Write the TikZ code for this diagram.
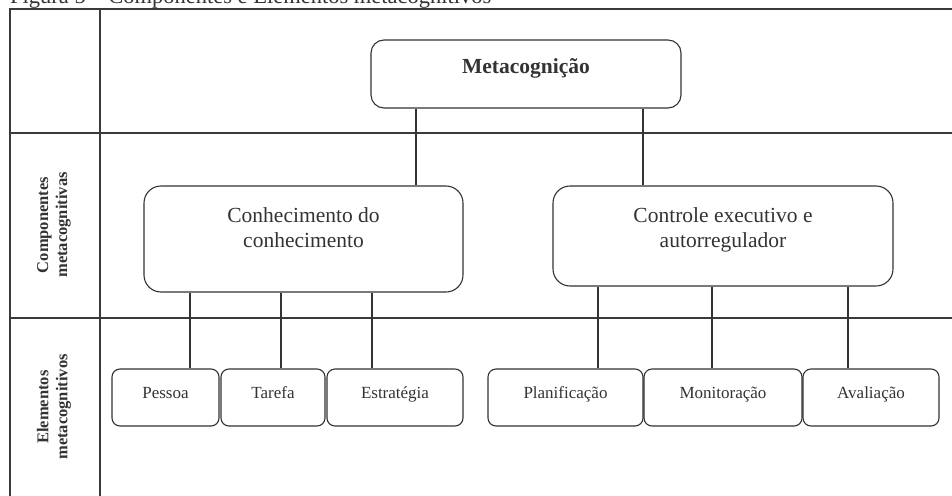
\documentclass[tikz,border=0pt]{standalone}
\usepackage{fontspec}
\setmainfont{Liberation Serif}
\usetikzlibrary{calc}
\definecolor{ink}{HTML}{333333}
\definecolor{gridc}{HTML}{3A3A3A}
\begin{document}
\begin{tikzpicture}[x=1pt,y=-1pt,
  gridline/.style={draw=gridc,line width=1.3pt},
  bigbox/.style={draw=ink,line width=1.1pt,rounded corners=17pt,inner sep=0pt},
  smallbox/.style={draw=ink,line width=1.1pt,rounded corners=8pt,inner sep=0pt,minimum height=57pt},
  conn/.style={draw=ink,line width=1.2pt},
  bigtxt/.style={text=ink,font=\fontsize{21.5}{25}\selectfont,align=center,anchor=base,inner sep=0pt},
  smalltxt/.style={text=ink,font=\fontsize{17}{19}\selectfont,anchor=base,inner sep=0pt},
  sidetxt/.style={text=ink,font=\bfseries\fontsize{16.5}{19}\selectfont,align=center,rotate=90}]
\useasboundingbox (0,0) rectangle (952,495);
\clip (0,0) rectangle (952,495);
\fill[white] (0,0) rectangle (952,495);
% caption (cut at top in the reference)
\node[anchor=base west,inner sep=0pt,text=ink,font=\fontsize{22.5}{26}\selectfont] (cap) at (10,4) {Figura 5 -- Componentes e Elementos metacognitivos};
% grid
\draw[gridline] (10,9) -- (960,9);
\draw[gridline] (10,133) -- (960,133);
\draw[gridline] (10,318) -- (960,318);
\draw[gridc,line width=1.8pt] (10,8.5) -- (10,500);
\draw[gridline] (100,9) -- (100,500);
% side labels
\node[sidetxt] (comp) at (54,225) {Componentes\\metacognitivas};
\node[sidetxt] (elem) at (54,407) {Elementos\\metacognitivos};
% main boxes
\node[bigbox,rounded corners=13pt,minimum width=310pt,minimum height=68pt] (meta) at (526,74) {};
\node[bigtxt,font=\bfseries\fontsize{21.5}{25}\selectfont] (metat) at (meta.center |- 0,74) {Metacognição};
\node[bigbox,minimum width=319pt,minimum height=106pt] (conh) at (303.5,239) {};
\node[bigtxt] (conht) at (conh.center |- 0,247) {Conhecimento do\\conhecimento};
\node[bigbox,minimum width=340pt,minimum height=100pt] (ctrl) at (723,236) {};
\node[bigtxt] (ctrlt) at (ctrl.center |- 0,247) {Controle executivo e\\autorregulador};
% small boxes
\node[smallbox,minimum width=107pt] (pes) at (165.5,397.5) {};
\node[smallbox,minimum width=104pt] (tar) at (273,397.5) {};
\node[smallbox,minimum width=136pt] (est) at (395,397.5) {};
\node[smallbox,minimum width=155pt] (pla) at (565.5,397.5) {};
\node[smallbox,minimum width=158pt] (mon) at (723,397.5) {};
\node[smallbox,minimum width=136pt] (ava) at (871,397.5) {};
\node[smalltxt] (pest) at (pes.center |- 0,398) {Pessoa};
\node[smalltxt] (tart) at (tar.center |- 0,398) {Tarefa};
\node[smalltxt] (estt) at (est.center |- 0,398) {Estratégia};
\node[smalltxt] (plat) at (pla.center |- 0,398) {Planificação};
\node[smalltxt] (mont) at (mon.center |- 0,398) {Monitoração};
\node[smalltxt] (avat) at (ava.center |- 0,398) {Avaliação};
% connectors
\draw[conn] (meta.south -| 416,0) -- (conh.north -| 416,0);
\draw[conn] (meta.south -| 643,0) -- (ctrl.north -| 643,0);
\draw[conn] (conh.south -| 190,0) -- (pes.north -| 190,0);
\draw[conn] (conh.south -| 281,0) -- (tar.north -| 281,0);
\draw[conn] (conh.south -| 372,0) -- (est.north -| 372,0);
\draw[conn] (ctrl.south -| 598,0) -- (pla.north -| 598,0);
\draw[conn] (ctrl.south -| 712,0) -- (mon.north -| 712,0);
\draw[conn] (ctrl.south -| 848,0) -- (ava.north -| 848,0);
\end{tikzpicture}
\end{document}
